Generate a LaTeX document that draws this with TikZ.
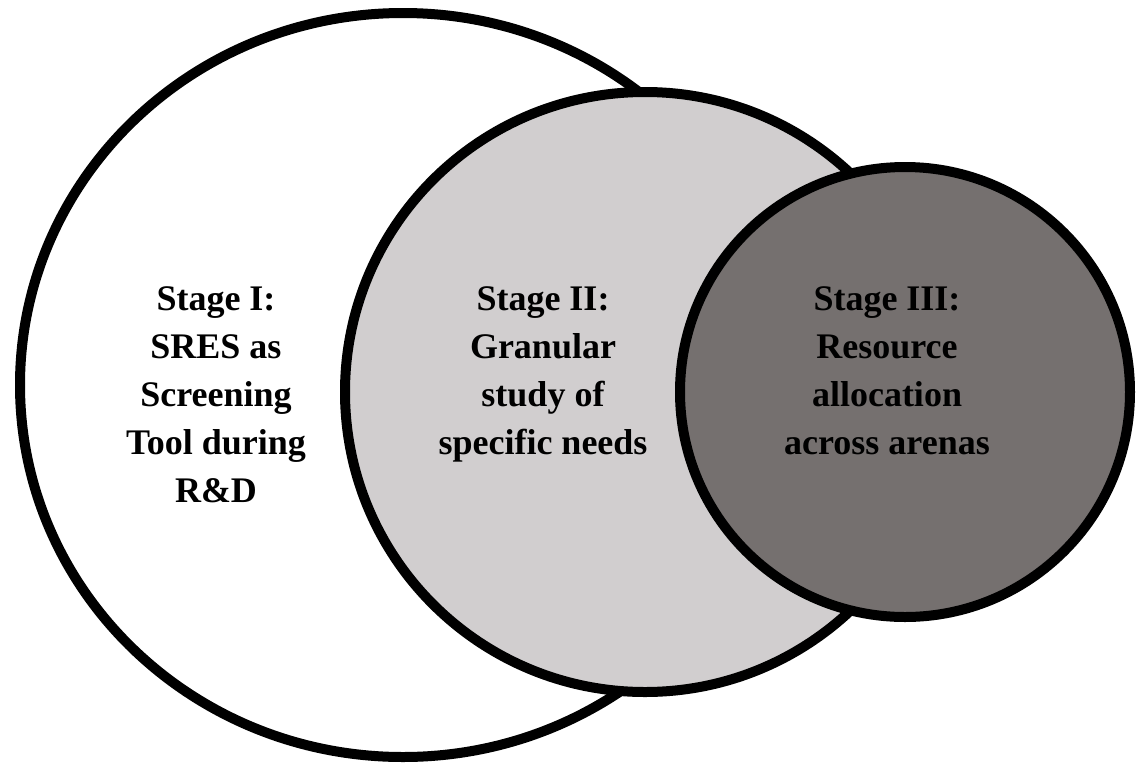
\documentclass[tikz,border=0pt]{standalone}
\usepackage{fontspec}
\setmainfont{Liberation Serif}
\usetikzlibrary{shapes.geometric}
\definecolor{lightfill}{RGB}{209,206,207}
\definecolor{darkfill}{RGB}{117,112,111}
\begin{document}
\begin{tikzpicture}[x=1pt,y=-1pt,
  ring/.style={draw=black, line width=10pt, inner sep=0pt, outer sep=0pt},
  stagetext/.style={align=center, font=\fontsize{36}{48}\selectfont\bfseries,
    inner sep=0pt, anchor=base}]
\useasboundingbox (0,0) rectangle (1141,772);
% three overlapping stages, drawn back to front
\node[ring, ellipse, fill=white, minimum width=766pt, minimum height=744pt] (s1) at (403,385) {};
\node[ring, circle, fill=lightfill, minimum size=600pt] (s2) at (645,392) {};
\node[ring, circle, fill=darkfill, minimum size=450pt] (s3) at (905,392) {};
% stage descriptions (anchored at the baseline of the last line)
\node[stagetext] (t1) at (216,502) {Stage I:\\SRES as\\Screening\\Tool during\\R\&D};
\node[stagetext] (t2) at (543,454) {Stage II:\\Granular\\study of\\specific needs};
\node[stagetext] (t3) at (887,454) {Stage III:\\Resource\\allocation\\across arenas};
\end{tikzpicture}
\end{document}
